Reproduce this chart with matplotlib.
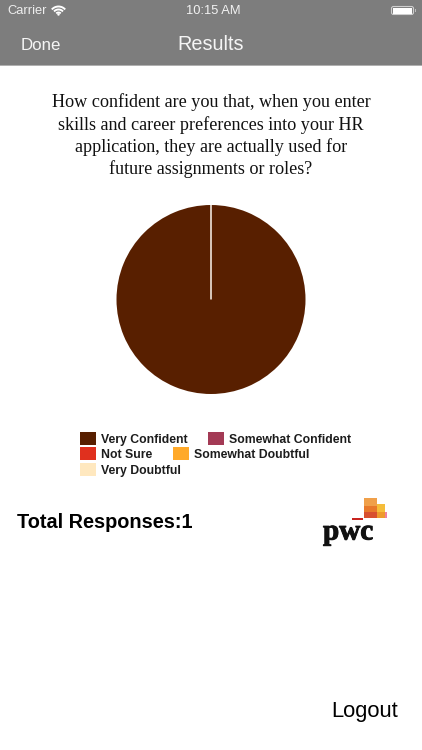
import matplotlib
matplotlib.use("Agg")
import matplotlib.pyplot as plt
import matplotlib.patheffects as pe
from matplotlib.patches import Rectangle, FancyBboxPatch, Arc, Circle

categories = ["Very Confident", "Somewhat Confident", "Not Sure", "Somewhat Doubtful", "Very Doubtful"]
responses = [1, 0, 0, 0, 0]
colors = ["#581f00", "#a33a55", "#e0301e", "#ffa929", "#ffe8bf"]
question = ["How confident are you that, when you enter",
            "skills and career preferences into your HR",
            "application, they are actually used for",
            "future assignments or roles?"]
W, H = 422, 750
SANS = "Liberation Sans"
SERIF = "Liberation Serif"

fig = plt.figure(figsize=(W / 100, H / 100), dpi=100, facecolor="white")
bg = fig.add_axes([0, 0, 1, 1])
bg.set_xlim(0, W)
bg.set_ylim(H, 0)
bg.axis("off")

# header bar
bg.add_patch(Rectangle((0, 0), W, 65, fc="#7d7d7d", ec="none"))
bg.add_patch(Rectangle((0, 65), W, 1, fc="#b0b0b0", ec="none"))
bg.text(7, 11, "Carrier", color="#eeeeee", fontsize=9.3, family=SANS, va="center")
for r in (9, 6, 3):
    bg.add_patch(Arc((58.5, 15.5), 2 * r, 2 * r, theta1=222, theta2=318, color="white", lw=1.4))
bg.add_patch(Circle((58.5, 14.5), 1.2, fc="white", ec="none"))
bg.text(213, 11, "10:15 AM", color="#f2f2f2", fontsize=9.3, family=SANS, va="center", ha="center")
bg.add_patch(FancyBboxPatch((391.5, 6.5), 22, 8, boxstyle="round,pad=0,rounding_size=2",
                            fc="none", ec="#cfcfcf", lw=0.8))
bg.add_patch(Rectangle((393, 7.5), 19, 6, fc="white", ec="none"))
bg.add_patch(Rectangle((415, 9), 1, 3, fc="#bdbdbd", ec="none"))
bg.text(21, 50, "Done", color="#f5f5f5", fontsize=12.2, family=SANS, va="baseline")
bg.text(211, 50, "Results", color="#f5f5f5", fontsize=14.3, family=SANS, va="baseline", ha="center")

# question
for i, line in enumerate(question):
    bg.text(211, 102.5 + i * 22.3, line, color="#111111", fontsize=13.1, family=SERIF,
            ha="center", va="center")

# pie
cx, cy, rad = 211, 299.5, 94.5
pie_ax = fig.add_axes([(cx - rad) / W, 1 - (cy + rad) / H, 2 * rad / W, 2 * rad / H])
wedges, _ = pie_ax.pie(responses, colors=colors, startangle=90, counterclock=False, radius=1)
pie_ax.set_xlim(-1, 1)
pie_ax.set_ylim(-1, 1)
# zero-valued slices collapse to the light radial seam at 12 o'clock
wedges[-1].set_edgecolor("#e3d5cb")
wedges[-1].set_linewidth(1.3)
wedges[-1].set_zorder(5)

# legend
legend_rows = [[(80, 0), (208, 1)], [(80, 2), (173, 3)], [(80, 4)]]
for r, row in enumerate(legend_rows):
    y = 438 + r * 15.5
    for x, idx in row:
        bg.add_patch(Rectangle((x, y - 6.5), 16, 13, fc=colors[idx], ec="none"))
        bg.text(x + 21, y + 5, categories[idx], color="#1c1c1c", fontsize=8.82,
                family=SANS, weight="bold", va="baseline")

# footer texts
bg.text(17, 523, "Total Responses:1", color="black", fontsize=14.3, family=SANS,
        weight="bold", va="center")
bg.text(331, 711.5, "Logout", color="black", fontsize=15.8, family=SANS, va="center")

# logo
for x0, y0, w, h, c in [
    (364, 498, 13, 20, "#f0a04a"),
    (364, 506, 13, 12, "#e8792b"),
    (377, 504, 8, 14, "#f5bd3a"),
    (364, 512, 13, 6, "#d8502f"),
    (377, 512, 8, 6, "#ee9a2c"),
    (385, 512, 2, 6, "#ef7fa0"),
    (352, 517.5, 11, 2, "#c8241f"),
]:
    bg.add_patch(Rectangle((x0, y0), w, h, fc=c, ec="none"))
bg.text(348, 532, "pwc", color="#111111", fontsize=21, family=SERIF, weight="bold",
        ha="center", va="center",
        path_effects=[pe.withStroke(linewidth=0.7, foreground="#111111")])

fig.savefig("out.png", dpi=100)
